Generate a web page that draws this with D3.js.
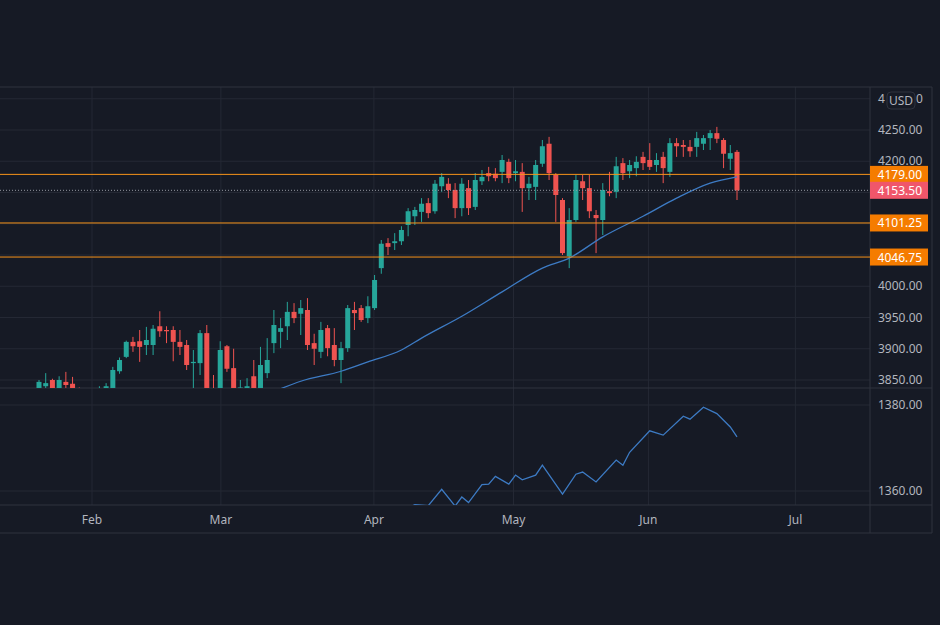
<!DOCTYPE html>
<html><head><meta charset="utf-8">
<script src="https://cdn.jsdelivr.net/npm/d3@7"></script>
<style>html,body{margin:0;padding:0;background:#161a25;}svg{display:block;font-family:"Noto Sans",Roboto,sans-serif;}</style>
</head><body><svg id="c" width="940" height="625"></svg>
<script>
const opens  =[3837,3840,3850,3837,3847,3844,3836,3815,3825,3810,3830,3825,3864,3887,3911,3912,3906,3906,3936,3930,3930,3911,3906,3877,3877,3925,3835,3835,3904,3869,3830,3836,3856,3835,3861,3909,3927,3936,3959,3956,3962,3909,3895,3933,3906,3882,3901,3962,3965,3949,3965,4029,4069,4069,4072,4098,4112,4119,4133,4120,4160,4164,4154,4125,4157,4127,4168,4181,4180,4183,4199,4181,4183,4157,4159,4196,4228,4178,4138,4048,4106,4168,4157,4114,4106,4152,4151,4197,4184,4189,4207,4202,4194,4207,4183,4229,4226,4223,4223,4228,4237,4245,4234,4204,4215];
const highs  =[3850,3861,3852,3856,3863,3855,3838,3832,3830,3840,3845,3871,3886,3913,3919,3930,3935,3938,3960,3936,3936,3930,3914,3898,3930,3938,3858,3912,3906,3900,3850,3853,3882,3903,3917,3962,3949,3975,3973,3978,3981,3924,3943,3938,3933,3911,3970,3975,3970,3984,4018,4074,4077,4085,4096,4125,4127,4141,4141,4170,4181,4173,4165,4173,4170,4181,4186,4191,4189,4210,4204,4202,4197,4175,4202,4234,4239,4181,4141,4125,4178,4178,4178,4122,4165,4183,4207,4205,4202,4208,4215,4229,4213,4215,4237,4237,4234,4234,4247,4242,4250,4255,4237,4226,4218];
const lows   =[3834,3836,3834,3835,3836,3830,3805,3800,3795,3805,3822,3820,3860,3885,3895,3879,3890,3890,3919,3909,3880,3890,3866,3830,3858,3828,3815,3830,3863,3825,3820,3832,3830,3830,3853,3893,3901,3914,3941,3922,3898,3874,3885,3888,3872,3845,3895,3930,3943,3941,3962,4020,4050,4058,4066,4080,4098,4103,4109,4116,4151,4141,4109,4112,4114,4122,4162,4168,4168,4165,4165,4168,4119,4138,4138,4191,4170,4103,4050,4029,4103,4138,4109,4053,4082,4144,4141,4170,4173,4176,4186,4186,4183,4165,4175,4207,4207,4207,4207,4218,4218,4229,4189,4186,4138];
const closes =[3847,3845,3836,3850,3842,3836,3815,3825,3810,3830,3840,3866,3882,3911,3904,3903,3914,3932,3928,3928,3911,3903,3874,3879,3925,3835,3825,3898,3868,3835,3838,3840,3835,3874,3882,3938,3933,3959,3949,3965,3906,3900,3930,3901,3882,3901,3965,3957,3946,3968,4010,4068,4063,4072,4090,4120,4122,4132,4117,4164,4175,4154,4125,4164,4125,4170,4175,4176,4173,4202,4173,4184,4157,4164,4194,4224,4181,4146,4053,4106,4170,4157,4120,4109,4154,4149,4192,4181,4194,4199,4197,4191,4202,4189,4229,4224,4223,4216,4237,4237,4245,4236,4212,4213,4153.5];
const maIdx  =[36,39,45,49,54,57,63,69,75,79,84,90,95,100,104];
const maVals =[3836,3848,3864,3879,3898,3917,3952,3991,4029,4045,4079,4112,4141,4165,4175];
const lowIdx =[52,54,56,58,60,62,63,64,66,67,68,70,71,72,74,75,78,80,81,83,86,87,88,91,93,96,97,99,101,103,104];
const lowVals=[1354,1355.5,1356.8,1356.6,1360.4,1356.5,1358.6,1357.3,1361.5,1361.6,1363.4,1361.6,1363.7,1362.6,1363.7,1366,1359.3,1363.9,1364.4,1362.1,1367.2,1366,1369,1374,1373,1377.4,1376.7,1379.5,1378,1374.9,1372.6];
const monthLabels=["Feb","Mar","Apr","May","Jun","Jul"];
const monthIdx=[7.9,27.1,49.9,70.7,90.8,112.7];
const priceTicks=[4300,4250,4200,4150,4100,4050,4000,3950,3900,3850];
const shownTickLabels=["4250.00","4200.00","4000.00","3950.00","3900.00","3850.00"];
const lowTicks=[1380,1360];
const levelVals=[4179,4101.25,4046.75];
const lastPrice=4153.5;

(function(){
const svg=d3.select("#c");
const axisX=870, right=932, topY=87, mainB=388, lowB=505, bottomY=533;
const grid="#242834", border="#2e323e", txt="#b2b5be";
const GREEN="#26a69a", RED="#ef5350", ORANGE="#f7931a";
const x=d3.scaleLinear().domain([0,104]).range([39,737]);
const y=d3.scaleLinear().domain([3850,4250]).range([380,130]);
const y2=d3.scaleLinear().domain([1360,1380]).range([491,405]);

const defs=svg.append("defs");
defs.append("clipPath").attr("id","cm").append("rect").attr("x",0).attr("y",topY).attr("width",axisX).attr("height",mainB-topY);
defs.append("clipPath").attr("id","cl").append("rect").attr("x",0).attr("y",mainB).attr("width",axisX).attr("height",lowB-mainB);

const g=svg.append("g");
priceTicks.forEach(t=>g.append("line").attr("x1",0).attr("x2",axisX).attr("y1",y(t)).attr("y2",y(t)).attr("stroke",grid));
lowTicks.forEach(t=>g.append("line").attr("x1",0).attr("x2",axisX).attr("y1",y2(t)).attr("y2",y2(t)).attr("stroke",grid));
monthIdx.forEach(m=>g.append("line").attr("x1",x(m)).attr("x2",x(m)).attr("y1",topY).attr("y2",lowB).attr("stroke",grid));

const f=svg.append("g").attr("stroke",border).attr("fill","none");
f.append("line").attr("x1",0).attr("x2",right).attr("y1",topY).attr("y2",topY);
f.append("line").attr("x1",0).attr("x2",right).attr("y1",bottomY).attr("y2",bottomY);
f.append("line").attr("x1",right).attr("x2",right).attr("y1",topY).attr("y2",bottomY);
f.append("line").attr("x1",axisX).attr("x2",axisX).attr("y1",topY).attr("y2",bottomY);
f.append("line").attr("x1",0).attr("x2",right).attr("y1",mainB).attr("y2",mainB);
f.append("line").attr("x1",0).attr("x2",right).attr("y1",lowB).attr("y2",lowB);

const cg=svg.append("g").attr("clip-path","url(#cm)");
const data=opens.map((o,i)=>({i,o,h:highs[i],l:lows[i],c:closes[i]}));
cg.selectAll(".w").data(data).enter().append("line")
 .attr("x1",d=>x(d.i)).attr("x2",d=>x(d.i)).attr("y1",d=>y(d.h)).attr("y2",d=>y(d.l))
 .attr("stroke",d=>d.c>=d.o?GREEN:RED).attr("stroke-width",1);
cg.selectAll(".b").data(data).enter().append("rect")
 .attr("x",d=>x(d.i)-2.5).attr("width",5)
 .attr("y",d=>y(Math.max(d.o,d.c))).attr("height",d=>Math.max(1,Math.abs(y(d.o)-y(d.c))))
 .attr("fill",d=>d.c>=d.o?GREEN:RED);

cg.append("path").datum(maIdx.map((k,j)=>[k,maVals[j]]))
 .attr("d",d3.line().x(d=>x(d[0])).y(d=>y(d[1])).curve(d3.curveMonotoneX))
 .attr("fill","none").attr("stroke","#3d7bc4").attr("stroke-width",1.3);

levelVals.forEach(v=>cg.append("line").attr("x1",0).attr("x2",axisX).attr("y1",y(v)).attr("y2",y(v)).attr("stroke",ORANGE).attr("stroke-width",1));
cg.append("line").attr("x1",0).attr("x2",axisX).attr("y1",y(lastPrice)).attr("y2",y(lastPrice)).attr("stroke","#9598a1").attr("stroke-dasharray","1,2");

svg.append("g").attr("clip-path","url(#cl)").append("path").datum(lowIdx.map((k,j)=>[k,lowVals[j]]))
 .attr("d",d3.line().x(d=>x(d[0])).y(d=>y2(d[1])))
 .attr("fill","none").attr("stroke","#3d7bc4").attr("stroke-width",1.3);

const ax=svg.append("g").attr("fill",txt).attr("font-size",12);
priceTicks.filter(t=>shownTickLabels.includes(t.toFixed(2))).forEach(t=>ax.append("text").attr("x",878).attr("y",y(t)+4).text(t.toFixed(2)));
// partially covered top tick: only the visible edges
ax.append("text").attr("x",878).attr("y",y(4300)+4).text("4");
ax.append("text").attr("x",916).attr("y",y(4300)+4).text("0");
lowTicks.forEach(t=>ax.append("text").attr("x",878).attr("y",y2(t)+4).text(t.toFixed(2)));
monthLabels.forEach((m,j)=>ax.append("text").attr("x",x(monthIdx[j])).attr("y",524).attr("text-anchor","middle").text(m));

svg.append("rect").attr("x",887).attr("y",92).attr("width",28).attr("height",17).attr("rx",4).attr("fill","#161a25").attr("stroke","#2e323e");
svg.append("text").attr("x",901).attr("y",105).attr("text-anchor","middle").attr("fill",txt).attr("font-size",12).text("USD");

function lab(v,col){
 svg.append("rect").attr("x",axisX).attr("y",y(v)-8.5).attr("width",58).attr("height",17).attr("fill",col);
 svg.append("text").attr("x",922).attr("y",y(v)+4.5).attr("text-anchor","end").attr("fill","#ffffff").attr("font-size",12).text(v.toFixed(2));
}
levelVals.forEach(v=>lab(v,"#f57c00"));
lab(lastPrice,"#f0566a");
})();
</script></body></html>
